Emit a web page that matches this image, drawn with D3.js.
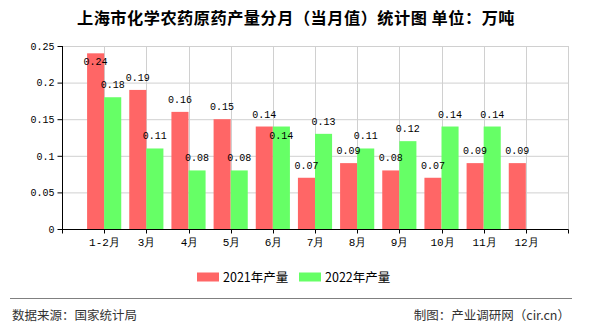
<!DOCTYPE html>
<html><head><meta charset="utf-8">
<script src="https://cdn.jsdelivr.net/npm/d3@7/dist/d3.min.js"></script>
<style>body{margin:0;background:#fff}svg{display:block}</style>
</head><body>
<script>
const categories = ["1-2月","3月","4月","5月","6月","7月","8月","9月","10月","11月","12月"];
const series2021 = [0.24,0.19,0.16,0.15,0.14,0.07,0.09,0.08,0.07,0.09,0.09];
const series2022 = [0.18,0.11,0.08,0.08,0.14,0.13,0.11,0.12,0.14,0.14,null];
const seriesNames = ["2021年产量","2022年产量"];
const yTicks = [0,0.05,0.1,0.15,0.2,0.25];
const titleText = "上海市化学农药原药产量分月（当月值）统计图 单位：万吨";
const sourceText = "数据来源：国家统计局";
const creditText = "制图：产业调研网（cir.cn）";

const W = 590, H = 330;
const L = 62, R = 568, T = 46, B = 229;
const colors = ["#ff6666", "#66ff66"];
const monoFont = "'Liberation Mono','DejaVu Sans Mono',monospace";
const cjkFont = "'Noto Sans CJK SC','Noto Sans',sans-serif";

const svg = d3.select("body").append("svg").attr("width", W).attr("height", H);

const domain = [" ", ...categories, "  "];
const x = d3.scalePoint().domain(domain).range([L, R]);
const step = x.step();
const y = d3.scaleLinear().domain([0, 0.25]).range([B, T]);

// grid
const g = svg.append("g");
g.selectAll(".hg").data(yTicks.slice(1)).join("line")
  .attr("x1", L).attr("x2", R).attr("y1", d => y(d) + 0.5).attr("y2", d => y(d) + 0.5)
  .attr("stroke", "#d0d0d0").attr("stroke-width", 1);
g.selectAll(".vg").data(domain.slice(1)).join("line")
  .attr("x1", d => Math.round(x(d)) + 0.5).attr("x2", d => Math.round(x(d)) + 0.5)
  .attr("y1", T).attr("y2", B)
  .attr("stroke", "#d0d0d0").attr("stroke-width", 1);

// bars
const bw = step * 0.405;
const rows = categories.map((c, i) => ({c, a: series2021[i], b: series2022[i]}));
svg.append("g").selectAll("rect").data(rows.filter(d => d.a != null)).join("rect")
  .attr("x", d => x(d.c) - bw).attr("width", bw)
  .attr("y", d => y(d.a)).attr("height", d => y(0) - y(d.a))
  .attr("fill", colors[0]);
svg.append("g").selectAll("rect").data(rows.filter(d => d.b != null)).join("rect")
  .attr("x", d => x(d.c)).attr("width", bw)
  .attr("y", d => y(d.b)).attr("height", d => y(0) - y(d.b))
  .attr("fill", colors[1]);

// axes
const yAxis = d3.axisLeft(y).tickValues(yTicks).tickSize(5).tickPadding(3)
  .tickFormat(d => d === 0 ? "0" : String(+d.toFixed(2)));
const ya = svg.append("g").attr("transform", `translate(${L + 0.5},0)`).call(yAxis);
ya.select(".domain").attr("stroke", "#000").attr("d", `M0,${T}V${B + 0.5}`);
ya.selectAll(".tick line").attr("stroke", "#000");
ya.selectAll(".tick text").attr("font-family", monoFont).attr("font-size", 10).attr("fill", "#000");

const xAxis = d3.axisBottom(x).tickSize(4).tickPadding(5).tickFormat(d => d.trim());
const xa = svg.append("g").attr("transform", `translate(0,${B + 0.5})`).call(xAxis);
xa.select(".domain").attr("stroke", "#000").attr("d", `M${L},0H${R + 0.5}`);
xa.selectAll(".tick line").attr("stroke", "#000");
xa.selectAll(".tick").attr("transform", d => `translate(${Math.round(x(d)) + 0.5},0)`);
xa.selectAll(".tick text").attr("font-family", monoFont)
  .attr("font-size", 11).attr("fill", "#000");

// value labels
function lab(v) { return String(+v.toFixed(2)); }
const labels = svg.append("g").attr("font-family", monoFont).attr("font-size", 10)
  .attr("text-anchor", "middle").attr("fill", "#000");
rows.forEach(d => {
  let ya_ = null;
  if (d.a != null) {
    ya_ = y(d.a) - 9;
    if (ya_ - 8 < T) ya_ = y(d.a) + 11.5;
    labels.append("text").attr("x", x(d.c) - bw / 2).attr("y", ya_).text(lab(d.a));
  }
  if (d.b != null) {
    let yb = y(d.b) - 9;
    if (yb - 8 < T) yb = y(d.b) + 11.5;
    if (ya_ != null && Math.abs(yb - ya_) < 10) yb = y(d.b) + 12.5;
    labels.append("text").attr("x", x(d.c) + bw / 2).attr("y", yb).text(lab(d.b));
  }
});

// title
svg.append("text").attr("x", 296).attr("y", 24).attr("text-anchor", "middle")
  .attr("font-family", cjkFont).attr("font-weight", "bold").attr("font-size", 16.2)
  .attr("letter-spacing", 0.5)
  .attr("fill", "#000").text(titleText);

// legend
const lg = svg.append("g").attr("font-family", cjkFont).attr("font-size", 12.5);
const legX = [197, 299];
seriesNames.forEach((n, i) => {
  lg.append("rect").attr("x", legX[i]).attr("y", 272.5).attr("width", 22).attr("height", 9).attr("fill", colors[i]);
  lg.append("text").attr("x", legX[i] + 26).attr("y", 282).attr("fill", "#000").text(n);
});

// footer
svg.append("line").attr("x1", 10).attr("x2", 572).attr("y1", 298.5).attr("y2", 298.5)
  .attr("stroke", "#808080").attr("stroke-width", 1.2);
svg.append("text").attr("x", 12).attr("y", 320).attr("font-family", cjkFont).attr("font-size", 12.5)
  .attr("fill", "#333").text(sourceText);
svg.append("text").attr("x", 570).attr("y", 320).attr("text-anchor", "end").attr("font-family", cjkFont)
  .attr("font-size", 12.5).attr("fill", "#333").text(creditText);
</script>
</body></html>
